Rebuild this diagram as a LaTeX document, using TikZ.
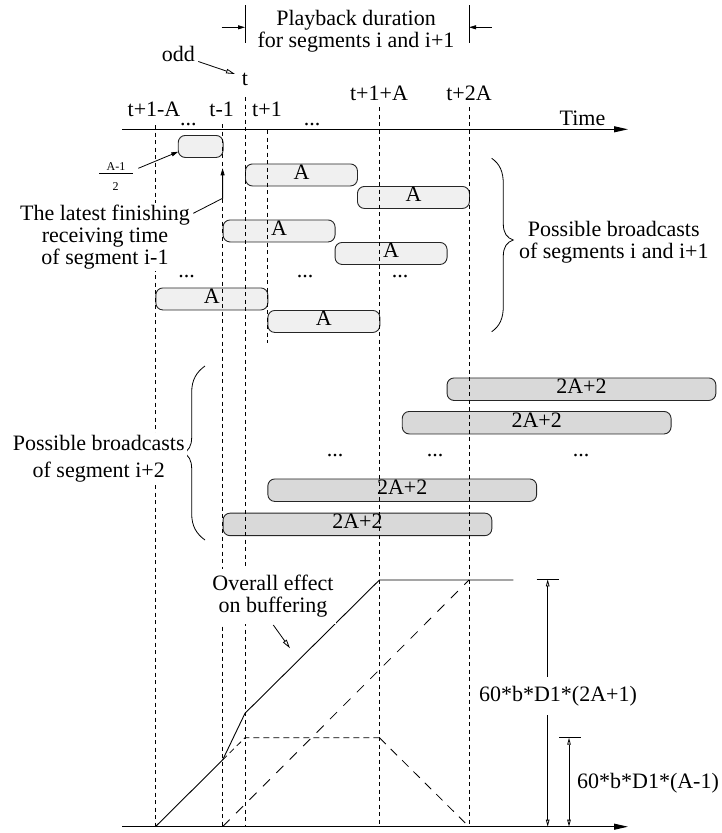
\documentclass[tikz,border=0pt]{standalone}
\usepackage{fontspec}
\setmainfont{Liberation Serif}
\usetikzlibrary{arrows.meta}
\begin{document}
\begin{tikzpicture}[x=1pt,y=-1pt,
  txt/.style={font=\fontsize{22}{22}\selectfont, inner sep=0pt},
  small/.style={font=\fontsize{12}{12}\selectfont, inner sep=0pt},
  wtxt/.style={txt, fill=white, align=center, inner sep=2pt},
  abox/.style={draw=black!85, line width=0.9pt, rounded corners=7pt, fill=black!6,
    minimum width=112pt, minimum height=22pt, inner sep=0pt, anchor=north west,
    font=\fontsize{22}{22}\selectfont},
  bbox/.style={abox, fill=black!15, minimum width=268.8pt, minimum height=22.5pt},
  vline/.style={line width=0.8pt, dash pattern=on 4pt off 3.5pt},
  solidline/.style={line width=0.9pt},
  fa/.style={-{Triangle[length=7pt,width=4pt]}, line width=0.8pt},
  oa/.style={-{Triangle[open,length=9pt,width=4.5pt]}, line width=0.8pt},
  ax/.style={-{Triangle[length=14pt,width=6pt]}, line width=1pt},
  dimline/.style={{Triangle[open,length=7pt,width=3.5pt]}-{Triangle[open,length=7pt,width=3.5pt]}, line width=0.8pt}
]
\useasboundingbox (0,0) rectangle (722,833);

% ---------- boxes ----------
\node[abox, minimum width=44.8pt] (s0) at (177.8,135) {};
\node[abox] (a1) at (245,163.5) {A\strut};
\node[abox] (a2) at (357,186) {A\strut};
\node[abox] (a3) at (222.6,219.5) {A\strut};
\node[abox] (a4) at (334.6,242) {A\strut};
\node[abox] (a5) at (155.4,287.5) {A\strut};
\node[abox] (a6) at (267.4,310) {A\strut};

\node[bbox] (b1) at (446.6,377.5) {2A+2\strut};
\node[bbox] (b2) at (401.8,411) {2A+2\strut};
\node[bbox] (b3) at (267.4,478.5) {2A+2\strut};
\node[bbox] (b4) at (222.6,512.7) {2A+2\strut};

% ---------- vertical dashed time lines ----------
\coordinate (vA1) at (155.4,125);   \coordinate (vA2) at (155.4,826.7);
\coordinate (vB1) at (222.6,124);   \coordinate (vB2) at (222.6,826.7);
\coordinate (vC1) at (245,97);      \coordinate (vC2) at (245,826.7);
\coordinate (vD1) at (267.4,130);   \coordinate (vD2) at (267.4,343.3);
\coordinate (vE1) at (379.4,107);   \coordinate (vE2) at (379.4,826.7);
\coordinate (vF1) at (469,107);     \coordinate (vF2) at (469,826.7);
\draw[vline] (vA1) -- (vA2);
\draw[vline] (vB1) -- (vB2);
\draw[vline] (vC1) -- (vC2);
\draw[vline] (vD1) -- (vD2);
\draw[vline] (vE1) -- (vE2);
\draw[vline] (vF1) -- (vF2);

% ---------- header ----------
\coordinate (hL1) at (245,5);   \coordinate (hL2) at (245,43.3);
\coordinate (hR1) at (469,5);   \coordinate (hR2) at (469,43.3);
\coordinate (hLm) at (245,27.3); \coordinate (hRm) at (469,27.3);
\coordinate (hLs) at (221.7,27.3); \coordinate (hRs) at (491.7,27.3);
\draw[solidline] (hL1) -- (hL2);
\draw[solidline] (hR1) -- (hR2);
\draw[fa] (hLs) -- (hLm);
\draw[fa] (hRs) -- (hRm);
\node[txt, align=center] (play) at (356,31.4) {Playback duration\\for segments i and i+1};

\node[txt, anchor=base] (odd) at (178.3,61.7) {odd};
\node[txt, anchor=base] (tt) at (245,85) {t};
\coordinate (oddA) at (198.3,61.5); \coordinate (oddB) at (235,74);
\draw[oa] (oddA) -- (oddB);

% ---------- time axis ----------
\coordinate (ax1) at (122,129.3); \coordinate (ax2) at (628,129.3);
\draw[ax] (ax1) -- (ax2);
\node[txt, anchor=base] (lA) at (154,116.7) {t+1-A};
\node[txt, anchor=base] (lB) at (221.7,116.7) {t-1};
\node[txt, anchor=base] (lD) at (267,116.7) {t+1};
\node[txt, anchor=base] (lE) at (379,100) {t+1+A};
\node[txt, anchor=base] (lF) at (469,100) {t+2A};
\node[txt, anchor=base] (time) at (582.5,125) {Time};
\node[txt, anchor=base] (d1) at (188.3,125.4) {...};
\node[txt, anchor=base] (d2) at (312,125.4) {...};

% ---------- fraction and arrows on the left ----------
\node[small, anchor=base] (fnum) at (116,170) {A-1};
\node[small, anchor=base] (fden) at (115.7,190) {2};
\coordinate (fb1) at (99,173.3); \coordinate (fb2) at (132.7,173.3);
\draw[line width=0.8pt] (fb1) -- (fb2);
\coordinate (fa1) at (138.3,168.3); \coordinate (fa2) at (178.3,151.7);
\draw[fa] (fa1) -- (fa2);

\node[wtxt] (latest) at (105,236.9) {The latest finishing\\receiving time\\of segment i-1};
\coordinate (lf1) at (193.3,213.3); \coordinate (lf2) at (222.6,198.3); \coordinate (lf3) at (222.6,168.3);
\draw[fa] (lf1) -- (lf2) -- (lf3);

% ---------- dots between rows ----------
\node[txt, anchor=base] (d3) at (186.7,277) {...};
\node[txt, anchor=base] (d4) at (305,277) {...};
\node[txt, anchor=base] (d5) at (400,277) {...};
\node[txt, anchor=base] (d6) at (335,456.5) {...};
\node[txt, anchor=base] (d7) at (435,456.5) {...};
\node[txt, anchor=base] (d8) at (581,456.5) {...};

% ---------- braces ----------
\draw[line width=0.8pt] (491.7,158.3) .. controls (500,164) and (503.3,172) .. (503.3,184)
  -- (503.3,224) .. controls (503.3,233) and (507,238) .. (513.3,240)
  .. controls (507,242) and (503.3,247) .. (503.3,256)
  -- (503.3,306) .. controls (503.3,318) and (500,326) .. (491.7,331.7);
\node[txt, align=center] (pb1) at (613.8,242.4) {Possible broadcasts\\of segments i and i+1};

\draw[line width=0.8pt] (205,366) .. controls (196.5,372) and (191.7,380) .. (191.7,392)
  -- (191.7,437) .. controls (191.7,446) and (188.5,451) .. (183.3,453)
  .. controls (188.5,455) and (191.7,460) .. (191.7,469)
  -- (191.7,514) .. controls (191.7,526) and (196.5,534) .. (205,540);
\node[wtxt, font=\fontsize{22}{27}\selectfont] (pb2) at (98.7,458.6) {Possible broadcasts\\of segment i+2};

% ---------- buffering graph ----------
\coordinate (g0) at (155.4,826.7);
\coordinate (g1) at (222.6,760);
\coordinate (g2) at (245,713.3);
\coordinate (g3) at (379.4,580);
\coordinate (g4) at (513.3,580);
\draw[solidline] (g0) -- (g1) -- (g2) -- (g3) -- (g4);

\coordinate (k0) at (222.6,826.7); \coordinate (k1) at (469,580);
\draw[line width=0.8pt, dash pattern=on 10pt off 9pt] (k0) -- (k1);
\coordinate (h1) at (245,737.7); \coordinate (h2) at (379.4,737.7); \coordinate (h3) at (469,826.7);
\draw[line width=0.8pt, dash pattern=on 6pt off 4pt] (g1) -- (h1) -- (h2);
\draw[line width=0.8pt, dash pattern=on 9pt off 7pt] (h2) -- (h3);

\node[wtxt, inner xsep=2pt, inner ysep=6pt] (overall) at (273,596.6) {Overall effect\\on buffering};
\coordinate (ov1) at (273.3,625); \coordinate (ov2) at (290,648.3);
\draw[oa] (ov1) -- (ov2);

% ---------- bottom axis ----------
\coordinate (bx1) at (122,826.7); \coordinate (bx2) at (628,826.7);
\draw[ax] (bx1) -- (bx2);

% ---------- dimensions ----------
\coordinate (m1a) at (536.7,579.3); \coordinate (m1b) at (559,579.3);
\coordinate (m1t) at (547.7,579.3); \coordinate (m1d) at (547.7,826.7);
\draw[solidline] (m1a) -- (m1b);
\draw[dimline] (m1t) -- (m1d);
\node[txt, fill=white, inner xsep=1pt, inner ysep=9pt, anchor=base] (dim1) at (558,701.7) {60*b*D1*(2A+1)};

\coordinate (m2a) at (559,737.7); \coordinate (m2b) at (580.7,737.7);
\coordinate (m2t) at (569,737.7); \coordinate (m2d) at (569,826.7);
\draw[solidline] (m2a) -- (m2b);
\draw[dimline] (m2t) -- (m2d);
\node[txt, anchor=base] (dim2) at (648,788.3) {60*b*D1*(A-1)};
\end{tikzpicture}
\end{document}
